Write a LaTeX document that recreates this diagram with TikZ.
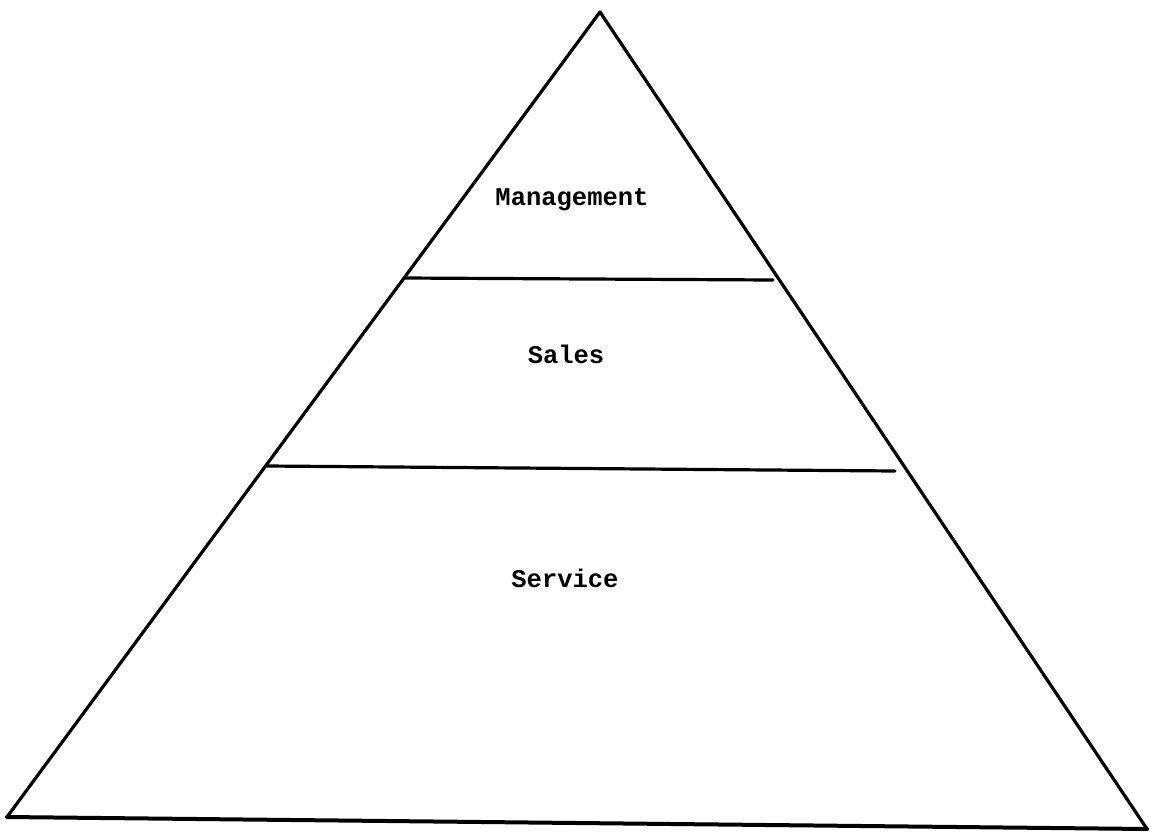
\documentclass[tikz,border=0pt]{standalone}
\usepackage{fontspec}
\setmonofont{Liberation Mono}
\begin{document}
\begin{tikzpicture}[x=1pt,y=-1pt,
  edge/.style={line width=3.2pt,line join=round,line cap=round},
  tier/.style={font=\ttfamily\bfseries\fontsize{25.5}{30}\selectfont,anchor=base,inner sep=0pt}]
  \useasboundingbox (0,0) rectangle (1162,833);
  % pyramid corners
  \coordinate (apex) at (600,12);
  \coordinate (bl) at (7,817);
  \coordinate (br) at (1147,829);
  % dividing lines
  \coordinate (d1l) at (404,278);
  \coordinate (d1r) at (773,280);
  \coordinate (d2l) at (267,466);
  \coordinate (d2r) at (895,471);
  \draw[edge] (apex) -- (bl);
  \draw[edge] (apex) -- (br);
  \draw[edge,line width=4pt] (bl) -- (br);
  \draw[edge] (d1l) -- (d1r);
  \draw[edge] (d2l) -- (d2r);
  % tier labels
  \node[tier] (mgmt) at (572,205) {Management};
  \node[tier] (sales) at (566,363) {Sales};
  \node[tier] (serv) at (565,587) {Service};
\end{tikzpicture}
\end{document}
